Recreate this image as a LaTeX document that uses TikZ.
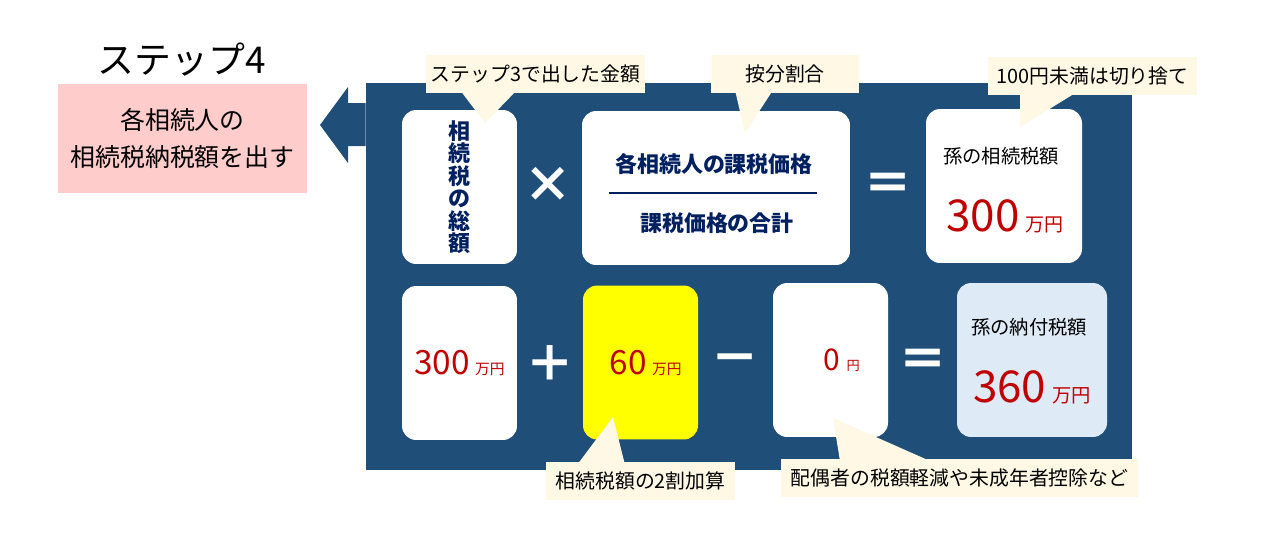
\documentclass[tikz,border=0pt]{standalone}
\usepackage{fontspec}
\setmainfont{Noto Sans CJK JP}
\usetikzlibrary{positioning}
\definecolor{cPanel} {RGB}{31,78,121}
\definecolor{cPink}  {RGB}{255,204,204}
\definecolor{cNote}  {RGB}{255,248,229}
\definecolor{cSky}   {RGB}{222,235,247}
\definecolor{cNavy}  {RGB}{0,32,96}
\definecolor{cRed}   {RGB}{192,0,0}
\definecolor{cYellow}{RGB}{255,255,0}
\newcommand{\fs}[1]{\fontsize{#1}{#1}\selectfont}

\begin{document}
\begin{tikzpicture}[
  x=0.02cm,y=-0.02cm,
  % every card shares the corner radius; sizes vary only in width
  card/.style={fill=white,rounded corners=8pt,minimum width=2.3cm,
               minimum height=3.08cm,inner sep=0pt,align=center},
  sign/.style={text=white,font=\fs{28}\bfseries,inner sep=0pt},
  navy/.style={text=cNavy,font=\fs{12.5}\bfseries,inner sep=0pt},
  label/.style={text=black,font=\fs{11},inner sep=0pt},
  money/.style={text=cRed,inner sep=0pt},
  callout/.style={fill=cNote,inner sep=0pt,minimum height=0.76cm,font=\fs{11.3}},
  pointer/.style={fill=cNote},
]
\useasboundingbox (0,0) rectangle (1270,535);

% ------------------------------------------------------------------ left side
\node[font=\fs{21},inner sep=0pt] (title) at (182,60) {ステップ4};
\node[fill=cPink,minimum width=4.98cm,minimum height=2.18cm,align=center,
      font=\fontsize{14.2}{21.5}\selectfont,inner sep=0pt] (goal) at (182.5,138.5)
      {各相続人の\\相続税納税額を出す};

% ------------------------------------------------------------- dark panel
\node[fill=cPanel,minimum width=15.32cm,minimum height=7.74cm,inner sep=0pt]
      (panel) at (749,276.5) {};
% block arrow pointing back at the goal box
\fill[cPanel] (panel.west |- 0,103) -- (348,103) -- (348,87) -- (320,125)
      -- (348,163) -- (348,146) -- (panel.west |- 0,146) -- cycle;

% ------------------------------------------------------------------ top row
\node[card,text=cNavy,font=\fontsize{12.5}{12.8}\selectfont\bfseries] (total)
      at (459.5,187) {相\\続\\税\\の\\総\\額};
\node[sign] (times) at (548,185) {×};
\node[card,minimum width=5.36cm] (ratio) at (716,188) {};
\node[navy] (share) at (714,164) {各相続人の課税価格};
\node[navy] (sum)   at (717,223) {課税価格の合計};
\draw[cNavy,line width=0.6pt] (609,193) -- (817,193);
\node[sign] (eq1) at (888,187) {＝};
\node[card,minimum width=3.12cm] (tax) at (1004,186) {};
\node[label] (taxname) at (1001,156) {孫の相続税額};
\node[money] (taxval) at (1005,216)
      {{\fs{25}300}\hspace{0.35em}{\fs{10.8}万円}};

% --------------------------------------------------------------- bottom row
\node[card] (base) at (459.5,363)
      {\color{cRed}{\fs{19}300}\hspace{0.3em}{\fs{8.4}万円}};
\node[sign] (plus) at (550,364) {＋};
\node[card,fill=cYellow] (extra) at (640.5,362.5)
      {\hspace{0.6em}\color{cRed}{\fs{19}60}\hspace{0.3em}{\fs{8.4}万円}};
\node[sign] (minus) at (735,365) {－};
\node[card] (credit) at (830.5,360)
      {\hspace{1.3em}\color{cRed}{\fs{17}0}\hspace{0.35em}{\fs{7.5}円}};
\node[sign] (eq2) at (923,363) {＝};
\node[card,fill=cSky,minimum width=3.0cm] (pay) at (1032,360) {};
\node[label] (payname) at (1029,327) {孫の納付税額};
\node[money] (payval) at (1032,387)
      {{\fs{25}360}\hspace{0.35em}{\fs{11}万円}};

% ----------------------------------------------------------------- callouts
\fill[pointer] (460,90) -- (517,90) -- (485,123) -- cycle;
\node[callout,minimum width=4.38cm] (from3) at (535.5,74) {ステップ3で出した金額};
\fill[pointer] (735,90) -- (773,90) -- (745,133) -- cycle;
\node[callout,minimum width=2.96cm] (prorate) at (785,74) {按分割合};
\fill[pointer] (1020,92) -- (1077,92) -- (1020,127) -- cycle;
\node[callout,minimum width=4.18cm] (round) at (1092.5,76) {100円未満は切り捨て};
\fill[pointer] (577,465) -- (625,465) -- (613,417) -- cycle;
\node[callout,minimum width=3.78cm] (surcharge) at (640.5,481) {相続税額の2割加算};
\fill[pointer] (840,461) -- (930,461) -- (833,418) -- cycle;
\node[callout,minimum width=7.14cm] (relief) at (959.5,477.5)
      {配偶者の税額軽減や未成年者控除など};

\end{tikzpicture}
\end{document}
